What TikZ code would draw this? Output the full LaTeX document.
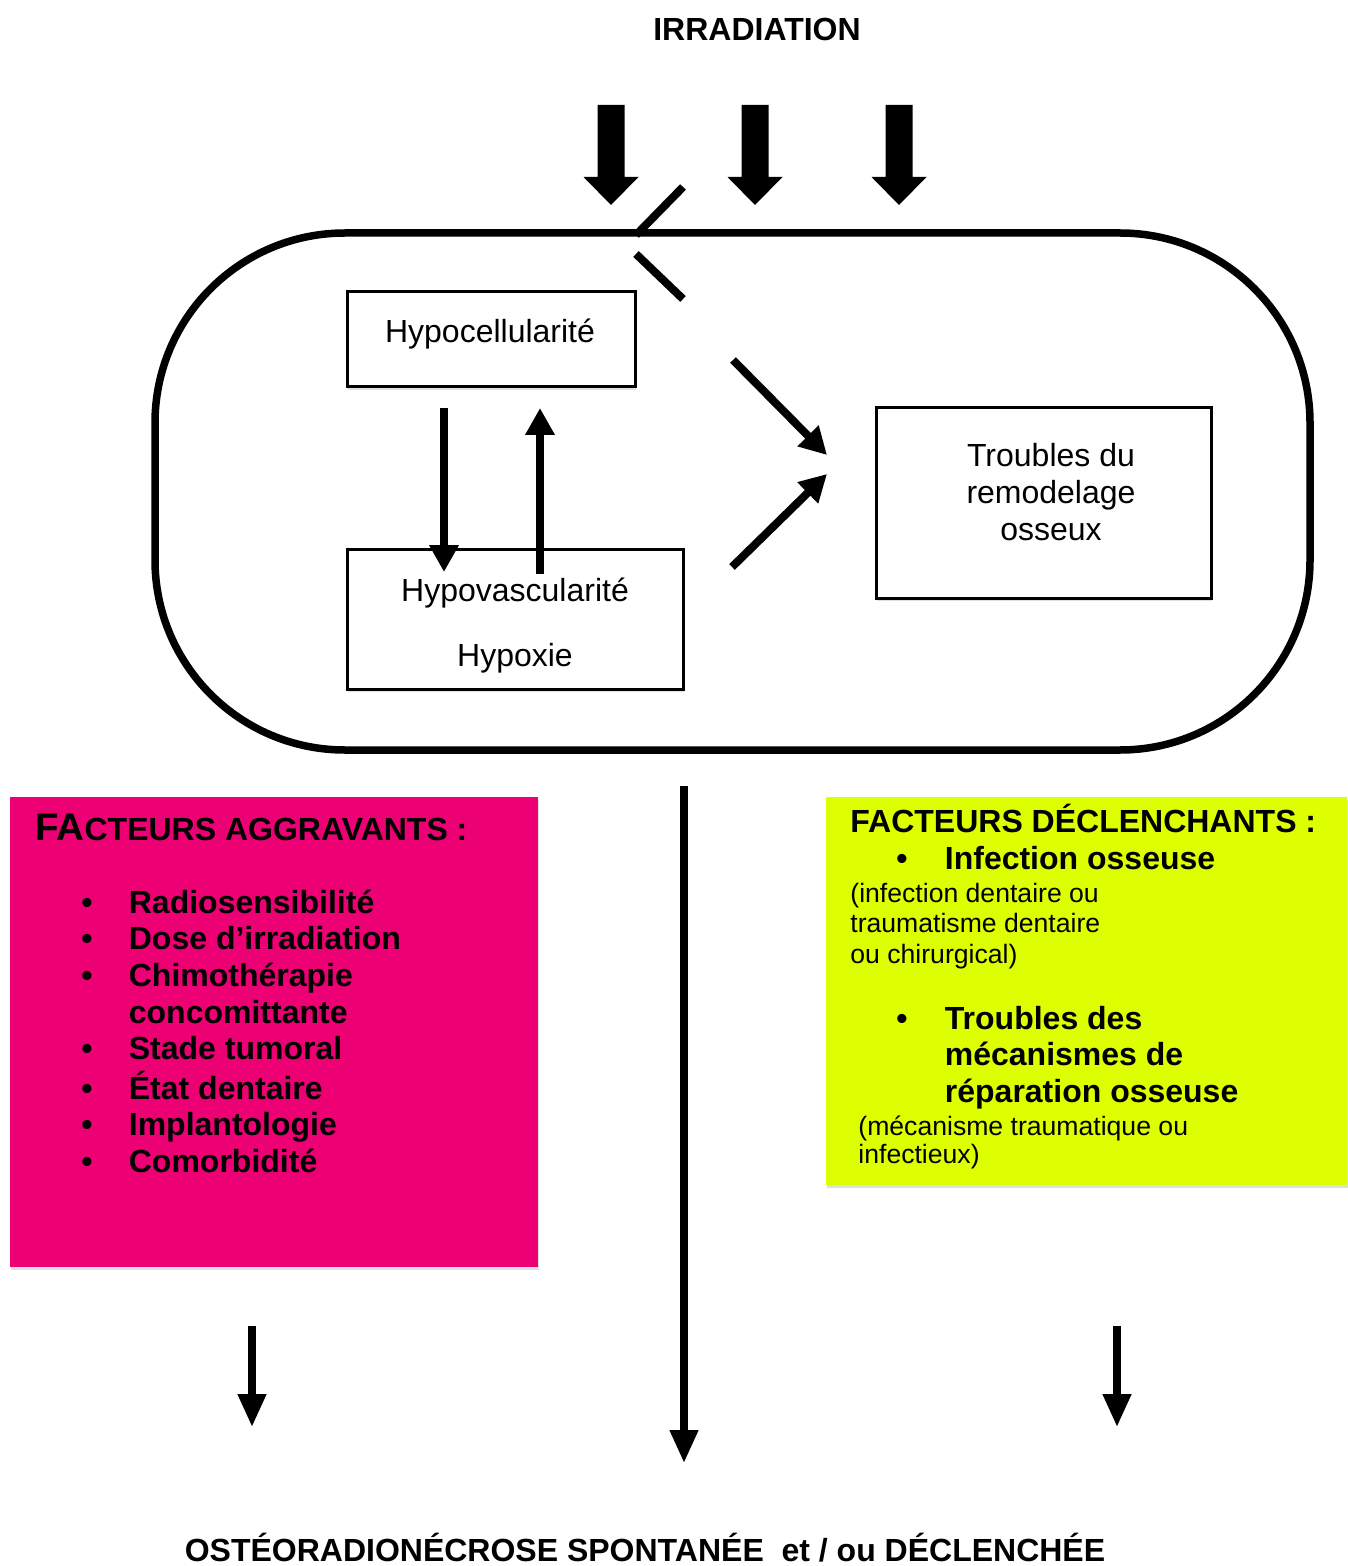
\documentclass[tikz,border=0pt]{standalone}
\usepackage{fontspec}
\setmainfont{Liberation Sans}
\usepackage{tikz}
\usetikzlibrary{arrows.meta,shadows}
\definecolor{aggrpink}{RGB}{236,0,115}
\definecolor{declyellow}{RGB}{221,255,0}
\newcommand{\bigfont}{\fontsize{16}{18.35}\selectfont}
\newcommand{\smallfont}{\fontsize{13.3}{15.25}\selectfont}

\begin{document}
\begin{tikzpicture}[x=0.5pt,y=-0.5pt,
  lightshadow/.style={drop shadow={shadow xshift=0.5pt,shadow yshift=-1.5pt,fill=black!25}},
  box/.style={draw,fill=white,line width=1.5pt,inner sep=0pt,lightshadow},
  boxtext/.style={font=\bigfont,align=center,inner sep=0pt},
  thick arrow/.style={line width=4pt,-{Triangle[width=14pt,length=13.5pt]}},
  long arrow/.style={line width=3.75pt,-{Triangle[width=13.5pt,length=16.5pt]}},
  factor/.style={inner sep=0pt,anchor=base west}]
\useasboundingbox (0,0) rectangle (1347,1566);

\node[font=\bigfont\bfseries,anchor=base] (irr) at (757,41) {IRRADIATION};
\foreach \x in {611,755,899}
  \fill (\x-13.5,105) -- (\x+13.5,105) -- (\x+13.5,177) -- (\x+27.5,177) -- (\x,205) -- (\x-27.5,177) -- (\x-13.5,177) -- cycle;

\node[draw,line width=3.75pt,rounded corners=95pt,minimum width=577.5pt,minimum height=258.5pt] (os) at (732.5,491.5) {};
\draw[line width=4pt] (683,187) -- (636,235);
\draw[line width=4pt] (636,254) -- (683,299);

\node[box,minimum width=144pt,minimum height=47.5pt] (cell) at (491,339.5) {};
\node[box,minimum width=168pt,minimum height=70pt] (vasc) at (515,619) {};
\node[box,minimum width=167.5pt,minimum height=95pt] (remod) at (1043.5,503) {};
\node[boxtext] (celltext) at (490,334.5) {Hypocellularité};
\node[boxtext] (vasctext) at (515,625.5) {Hypovascularité\\[14pt]Hypoxie};
\node[boxtext] (remodtext) at (1051,492) {Troubles du\\remodelage\\osseux};

\coordinate (c1) at (444,408);
\coordinate (v1) at (444,572);
\coordinate (v2) at (540,574);
\coordinate (c2) at (540,408);
\coordinate (a1) at (733,360);
\coordinate (r1) at (827,455);
\coordinate (a2) at (732,567);
\coordinate (r2) at (827,474);
\draw[thick arrow] (c1) -- (v1);
\draw[thick arrow] (v2) -- (c2);
\draw[thick arrow] (a1) -- (r1);
\draw[thick arrow] (a2) -- (r2);

\node[fill=aggrpink,minimum width=264pt,minimum height=235pt,inner sep=0pt,lightshadow] (aggr) at (274,1032) {};
\node[factor,font=\bigfont\bfseries] (aggrtitle) at (35,840) {{\fontsize{19.25}{20}\selectfont FA}CTEURS AGGRAVANTS :};
\node[factor,font=\bigfont\bfseries] (aggrlist) at (81,913) {\begin{tabular}[t]{@{}p{23.75pt}@{}l@{}}
\textbullet & Radiosensibilité\\
\textbullet & Dose d’irradiation\\
\textbullet & Chimothérapie\\
 & concomittante\\
\textbullet & Stade tumoral\\
\textbullet & État dentaire\\
\textbullet & Implantologie\\
\textbullet & Comorbidité
\end{tabular}};

\node[fill=declyellow,minimum width=260.5pt,minimum height=194pt,inner sep=0pt,lightshadow] (decl) at (1086.5,991) {};
\node[factor,font=\bigfont\bfseries] (decltitle) at (850,832) {FACTEURS DÉCLENCHANTS :};
\node[factor,font=\bigfont\bfseries] (infect) at (896,869) {\makebox[24.25pt][l]{\textbullet}Infection osseuse};
\node[factor,font=\smallfont] (infectnote) at (850,902) {\begin{tabular}[t]{@{}l@{}}
(infection dentaire ou\\
traumatisme dentaire\\
ou chirurgical)
\end{tabular}};
\node[factor,font=\bigfont\bfseries] (repar) at (896,1029) {\begin{tabular}[t]{@{}p{24.25pt}@{}l@{}}
\textbullet & Troubles des\\
 & mécanismes de\\
 & réparation osseuse
\end{tabular}};
\node[factor,font={\fontsize{13.3}{14}\selectfont}] (reparnote) at (858,1135) {\begin{tabular}[t]{@{}l@{}}
(mécanisme traumatique ou\\
infectieux)
\end{tabular}};

\coordinate (l1) at (252,1326);
\coordinate (l2) at (252,1427);
\coordinate (m1) at (684,786);
\coordinate (m2) at (684,1463);
\coordinate (q1) at (1117,1326);
\coordinate (q2) at (1117,1427);
\draw[long arrow] (l1) -- (l2);
\draw[long arrow] (m1) -- (m2);
\draw[long arrow] (q1) -- (q2);

\node[font=\bigfont\bfseries,anchor=base] (onr) at (645,1561) {OSTÉORADIONÉCROSE SPONTANÉE\ \ et / ou DÉCLENCHÉE};
\end{tikzpicture}
\end{document}
